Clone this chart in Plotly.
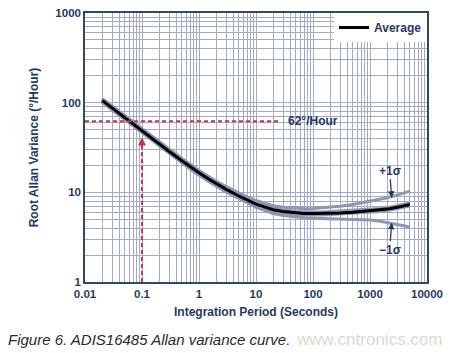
import math
import plotly.graph_objects as go

# ---- data ----
tau = [0.02, 0.03, 0.05, 0.07, 0.1, 0.15, 0.2, 0.3, 0.5, 0.7, 1, 1.5, 2, 3, 5, 7, 10, 15, 20, 30,
       50, 70, 100, 150, 200, 300, 500, 700, 1000, 1500, 2000, 3000, 4000, 5000]
avg = [106, 87, 67, 57, 48, 39.5, 34.5, 28.5, 22.5, 19.3, 16.5, 14, 12.5, 10.8, 9.1, 8.2, 7.4, 6.8, 6.4, 6.1,
       5.9, 5.8, 5.8, 5.8, 5.85, 5.9, 6.0, 6.1, 6.2, 6.35, 6.5, 6.8, 7.0, 7.3]
upper = [111, 91, 70, 60, 50.5, 41.5, 36.3, 30, 23.7, 20.4, 17.5, 14.9, 13.3, 11.6, 9.8, 8.9, 8.1, 7.5, 7.1, 6.8,
         6.6, 6.55, 6.6, 6.7, 6.8, 7.0, 7.3, 7.6, 7.9, 8.3, 8.7, 9.3, 9.8, 10.3]
lower = [101, 83, 64, 54.3, 45.6, 37.5, 32.7, 27, 21.3, 18.2, 15.5, 13.1, 11.7, 10.1, 8.5, 7.6, 6.8, 6.2, 5.8, 5.5,
         5.3, 5.2, 5.15, 5.1, 5.1, 5.05, 5.0, 4.95, 4.9, 4.75, 4.6, 4.4, 4.25, 4.1]

mark_value = [62, 62]
mark_h_x = [0.01, 27]
mark_v_x = [0.1, 0.1]
mark_v_y = [1, 38]
arrow_tip = 41

x_major = [0.01, 0.1, 1, 10, 100, 1000, 10000]
x_major_text = ["0.01", "0.1", "1", "10", "100", "1000", "10000"]
y_major = [1, 10, 100, 1000]
y_major_text = ["1", "10", "100", "1000"]

NAVY = "#1f3a63"
GRAY = "#9295b2"
RED = "#c8343f"
GRID = "#a6a9c4"
FONT = "Liberation Sans"


def all_ticks(majors, texts):
    vals, labs = [], []
    for i, m in enumerate(majors):
        vals.append(m)
        labs.append("<b>%s</b>" % texts[i])
        if i < len(majors) - 1:
            for k in range(2, 10):
                vals.append(m * k)
                labs.append("")
    return vals, labs


xv, xt = all_ticks(x_major, x_major_text)
yv, yt = all_ticks(y_major, y_major_text)

fig = go.Figure()
fig.add_trace(go.Scatter(x=tau, y=upper, mode="lines", line=dict(color=GRAY, width=3), showlegend=False))
fig.add_trace(go.Scatter(x=tau, y=lower, mode="lines", line=dict(color=GRAY, width=3), showlegend=False))
fig.add_trace(go.Scatter(x=tau, y=avg, mode="lines", line=dict(color=GRAY, width=6), showlegend=False))
fig.add_trace(go.Scatter(x=tau, y=avg, mode="lines", line=dict(color="black", width=3),
                         name="<b>Average</b>"))
fig.add_trace(go.Scatter(x=mark_h_x, y=mark_value, mode="lines",
                         line=dict(color=RED, width=2, dash="4px,3px"), showlegend=False))
fig.add_trace(go.Scatter(x=mark_v_x, y=mark_v_y, mode="lines",
                         line=dict(color=RED, width=2, dash="4px,3px"), showlegend=False))

fig.add_annotation(x=math.log10(mark_v_x[0]), y=math.log10(arrow_tip), xref="x", yref="y",
                   ax=0, ay=10, text="", showarrow=True, arrowhead=2, arrowsize=0.8,
                   arrowwidth=2, arrowcolor=RED)
fig.add_annotation(x=1.53, y=math.log10(mark_value[0]), xref="x", yref="y", text="<b>62°/Hour</b>",
                   showarrow=False, xanchor="left", yanchor="middle",
                   font=dict(family=FONT, size=12, color=NAVY))
fig.add_annotation(x=3.38, y=0.94, xref="x", yref="y", text="<b>+1σ</b>", showarrow=True,
                   ax=-2, ay=-27, arrowhead=2, arrowsize=1, arrowwidth=1.3, arrowcolor=NAVY,
                   font=dict(family=FONT, size=12, color=NAVY))
fig.add_annotation(x=3.38, y=0.66, xref="x", yref="y", text="<b>−1σ</b>", showarrow=True,
                   ax=-2, ay=27, arrowhead=2, arrowsize=1, arrowwidth=1.3, arrowcolor=NAVY,
                   font=dict(family=FONT, size=12, color=NAVY))

fig.add_annotation(x=0.61, y=-0.212, xref="paper", yref="paper", xanchor="left", yanchor="middle",
                   text="www.cntronics.com", showarrow=False,
                   font=dict(family=FONT, size=17, color="rgba(190,215,180,0.75)"))
fig.add_annotation(x=-0.23, y=-0.213, xref="paper", yref="paper", xanchor="left", yanchor="middle",
                   text="<i>Figure 6. ADIS16485 Allan variance curve.</i>", showarrow=False,
                   font=dict(family=FONT, size=15, color="#2a2a2a"))

fig.update_xaxes(type="log", range=[-2, 4], tickvals=xv, ticktext=xt, ticks="",
                 showgrid=True, gridcolor=GRID, gridwidth=1,
                 showline=True, linecolor="#2e4a62", linewidth=1.5, mirror=True,
                 tickfont=dict(family=FONT, size=11.5, color=NAVY),
                 title=dict(text="<b>Integration Period (Seconds)</b>", standoff=9,
                            font=dict(family=FONT, size=12, color=NAVY)))
fig.update_yaxes(type="log", range=[0, 3], tickvals=yv, ticktext=yt, ticks="",
                 showgrid=True, gridcolor=GRID, gridwidth=1,
                 showline=True, linecolor="#2e4a62", linewidth=1.5, mirror=True,
                 tickfont=dict(family=FONT, size=11.5, color=NAVY),
                 title=dict(text="<b>Root Allan Variance (°/Hour)</b>", standoff=14,
                            font=dict(family=FONT, size=12, color=NAVY)))

fig.update_layout(width=450, height=353, margin=dict(l=85, r=19, t=7, b=71),
                  paper_bgcolor="white", plot_bgcolor="white",
                  legend=dict(x=1, y=1, xanchor="right", yanchor="top", bgcolor="white",
                              borderwidth=0, font=dict(family=FONT, size=12, color=NAVY),
                              itemwidth=30),
                  font=dict(family=FONT))

fig.write_html("out.html")
